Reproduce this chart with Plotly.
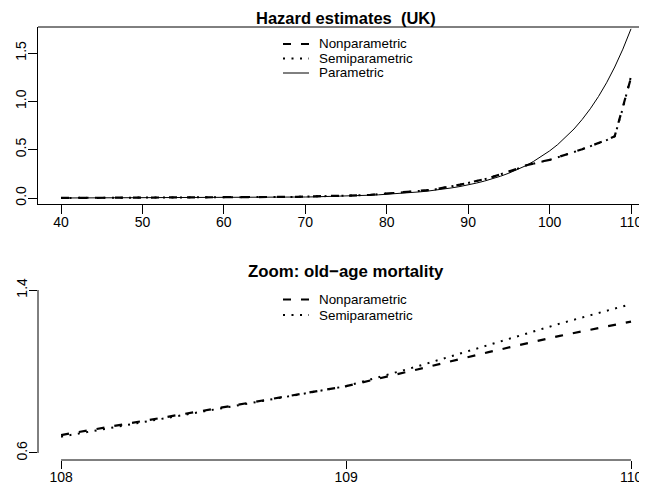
import plotly.graph_objects as go

# ---------------- data ----------------
ages = list(range(40, 111))

nonparametric = [
    0.0007, 0.0008, 0.0009, 0.0010, 0.0011, 0.0012, 0.0013, 0.0014, 0.0016, 0.0017,
    0.0019, 0.0021, 0.0023, 0.0025, 0.0028, 0.0031, 0.0034, 0.0038, 0.0042, 0.0046,
    0.0051, 0.0056, 0.0062, 0.0068, 0.0075, 0.0083, 0.0092, 0.0101, 0.0112, 0.0124,
    0.0137, 0.0152, 0.0168, 0.0186, 0.0206, 0.0240, 0.0260, 0.0290, 0.0330, 0.0390,
    0.045, 0.050, 0.056, 0.063, 0.071, 0.081, 0.091, 0.103, 0.122, 0.138,
    0.155, 0.174, 0.195, 0.219, 0.245, 0.272, 0.302, 0.336, 0.360, 0.377,
    0.395, 0.420, 0.447, 0.476, 0.505, 0.535, 0.567, 0.600, 0.640, 0.930,
    1.245,
]

semiparametric = [
    0.0006, 0.0007, 0.0008, 0.0009, 0.0010, 0.0011, 0.0012, 0.0014, 0.0015, 0.0017,
    0.0019, 0.0021, 0.0023, 0.0025, 0.0027, 0.0030, 0.0034, 0.0037, 0.0041, 0.0046,
    0.0050, 0.0056, 0.0061, 0.0068, 0.0075, 0.0082, 0.0091, 0.0101, 0.0111, 0.0123,
    0.0136, 0.0151, 0.0167, 0.0185, 0.0205, 0.0238, 0.0259, 0.0288, 0.0328, 0.0388,
    0.044, 0.050, 0.056, 0.062, 0.070, 0.080, 0.090, 0.102, 0.121, 0.137,
    0.154, 0.173, 0.194, 0.218, 0.244, 0.271, 0.301, 0.334, 0.358, 0.376,
    0.394, 0.419, 0.446, 0.475, 0.504, 0.534, 0.566, 0.598, 0.638, 0.930,
    1.258,
]

parametric = [
    0.0002, 0.0003, 0.0003, 0.0003, 0.0004, 0.0004, 0.0005, 0.0005, 0.0006, 0.0007,
    0.0008, 0.0009, 0.0010, 0.0012, 0.0013, 0.0015, 0.0017, 0.0020, 0.0022, 0.0026,
    0.0029, 0.0033, 0.0038, 0.0043, 0.0048, 0.0055, 0.0063, 0.0071, 0.0081, 0.0092,
    0.0104, 0.0119, 0.0135, 0.0153, 0.0174, 0.0200, 0.0230, 0.0260, 0.0290, 0.0330,
    0.038, 0.043, 0.049, 0.055, 0.063, 0.071, 0.081, 0.092, 0.105, 0.119,
    0.135, 0.154, 0.175, 0.199, 0.226, 0.257, 0.292, 0.331, 0.377, 0.428,
    0.487, 0.553, 0.629, 0.714, 0.812, 0.923, 1.049, 1.192, 1.355, 1.540,
    1.750,
]

zoom_ages = [108.0, 108.25, 108.5, 108.75, 109.0, 109.25, 109.5, 109.75, 110.0]
zoom_nonparametric = [0.688, 0.748, 0.808, 0.868, 0.928, 1.010, 1.095, 1.175, 1.245]
zoom_semiparametric = [0.680, 0.742, 0.804, 0.866, 0.928, 1.025, 1.130, 1.235, 1.331]

top_xticks = [40, 50, 60, 70, 80, 90, 100, 110]
top_yticks = [0.0, 0.5, 1.0, 1.5]
top_yticklabels = ["0.0", "0.5", "1.0", "1.5"]
bot_xticks = [108, 109, 110]
bot_yticks = [0.6, 1.4]
bot_yticklabels = ["0.6", "1.4"]

title_top = "Hazard estimates  (UK)"
title_bot = "Zoom: old\u2212age mortality"
legend_top = ["Nonparametric", "Semiparametric", "Parametric"]
legend_bot = ["Nonparametric", "Semiparametric"]

# ---------------- layout helpers ----------------
# the page body has an 8px margin, so the figure is drawn 8px in from the window corner
OFF = 8
W, H = 647 - OFF, 490 - OFF
FONT = "Liberation Sans, Arial, Helvetica, sans-serif"


def PX(px):  # window pixel -> paper fraction
    return (px - OFF) / W


def PY(py):
    return 1 - (py - OFF) / H


NON_DASH = "8px,10px"
SEMI_DASH = "2px,6.5px"

fig = go.Figure()

# top panel
fig.add_trace(go.Scatter(x=ages, y=nonparametric, mode="lines", xaxis="x", yaxis="y",
                         line=dict(color="black", width=2.2, dash=NON_DASH), showlegend=False))
fig.add_trace(go.Scatter(x=ages, y=semiparametric, mode="lines", xaxis="x", yaxis="y",
                         line=dict(color="black", width=2, dash=SEMI_DASH), showlegend=False))
fig.add_trace(go.Scatter(x=ages, y=parametric, mode="lines", xaxis="x", yaxis="y",
                         line=dict(color="black", width=1), showlegend=False))

# bottom panel
fig.add_trace(go.Scatter(x=zoom_ages, y=zoom_nonparametric, mode="lines", xaxis="x2", yaxis="y2",
                         line=dict(color="black", width=2.2, dash=NON_DASH), showlegend=False))
fig.add_trace(go.Scatter(x=zoom_ages, y=zoom_semiparametric, mode="lines", xaxis="x2", yaxis="y2",
                         line=dict(color="black", width=2, dash=SEMI_DASH), showlegend=False))

tickfont = dict(family=FONT, size=14, color="black")
common = dict(showgrid=False, zeroline=False, ticks="outside", tickcolor="black",
              tickwidth=1, tickfont=tickfont)

fig.update_layout(
    width=W, height=H,
    margin=dict(l=0, r=0, t=0, b=0, autoexpand=False),
    paper_bgcolor="white", plot_bgcolor="white",
    showlegend=False,
    xaxis=dict(domain=[PX(38), 1.0], range=[37.175, 111.965], anchor="y",
               tickmode="array", tickvals=top_xticks, ticklen=9, ticklabelstandoff=-4,
               showline=True, linecolor="black", linewidth=1, **common),
    yaxis=dict(domain=[PY(204), PY(27)], range=[-0.062, 1.769], anchor="x",
               tickmode="array", tickvals=top_yticks, ticktext=top_yticklabels,
               ticklen=9, tickangle=-90, ticklabelstandoff=-4,
               showline=True, linecolor="black", linewidth=1, **common),
    xaxis2=dict(domain=[PX(38), 1.0], range=[107.919, 110.056], anchor="y2",
                tickmode="array", tickvals=bot_xticks, ticklen=8, ticklabelstandoff=-4,
                showline=False, **common),
    yaxis2=dict(domain=[PY(460), PY(283)], range=[0.5656, 1.4344], anchor="x2",
                tickmode="array", tickvals=bot_yticks, ticktext=bot_yticklabels,
                ticklen=8, tickangle=-90, ticklabelstandoff=-4, showline=False, **common),
)

shapes = []
# top border of upper box
shapes.append(dict(type="line", xref="paper", yref="paper", x0=PX(38), x1=1.0,
                   y0=PY(27), y1=PY(27), line=dict(color="black", width=1)))
# partial axis lines of lower panel (R style)
shapes.append(dict(type="line", xref="x2", yref="paper", x0=bot_xticks[0], x1=bot_xticks[-1],
                   y0=PY(460), y1=PY(460), line=dict(color="black", width=1)))
shapes.append(dict(type="line", xref="paper", yref="y2", x0=PX(38), x1=PX(38),
                   y0=bot_yticks[0], y1=bot_yticks[-1], line=dict(color="black", width=1)))


def key(py, style):
    if style == "non":
        ln = dict(color="black", width=2.2, dash=NON_DASH)
    elif style == "semi":
        ln = dict(color="black", width=2, dash=SEMI_DASH)
    else:
        ln = dict(color="black", width=1)
    return dict(type="line", xref="paper", yref="paper", x0=PX(283), x1=PX(309),
                y0=PY(py), y1=PY(py), line=ln)


top_rows = [44, 58.5, 73]
bot_rows = [299.5, 315]
styles = ["non", "semi", "par"]
for py, st in zip(top_rows, styles):
    shapes.append(key(py, st))
for py, st in zip(bot_rows, styles):
    shapes.append(key(py, st))

annotations = []
annotations.append(dict(text="<b>%s</b>" % title_top, xref="paper", yref="paper",
                        x=PX(346), y=1.0, xanchor="center", yanchor="top", borderpad=0,
                        showarrow=False, font=dict(family=FONT, size=16.5, color="black")))
annotations.append(dict(text="<b>%s</b>" % title_bot, xref="paper", yref="paper",
                        x=PX(346), y=PY(271.5), xanchor="center", yanchor="middle",
                        showarrow=False, font=dict(family=FONT, size=16.8, color="black")))
for py, label in zip(top_rows, legend_top):
    annotations.append(dict(text=label, xref="paper", yref="paper", x=PX(317), y=PY(py),
                            xanchor="left", yanchor="middle", showarrow=False,
                            font=dict(family=FONT, size=13.4, color="black")))
for py, label in zip(bot_rows, legend_bot):
    annotations.append(dict(text=label, xref="paper", yref="paper", x=PX(317), y=PY(py),
                            xanchor="left", yanchor="middle", showarrow=False,
                            font=dict(family=FONT, size=13.4, color="black")))

fig.update_layout(shapes=shapes, annotations=annotations)

fig.write_html("out.html")
